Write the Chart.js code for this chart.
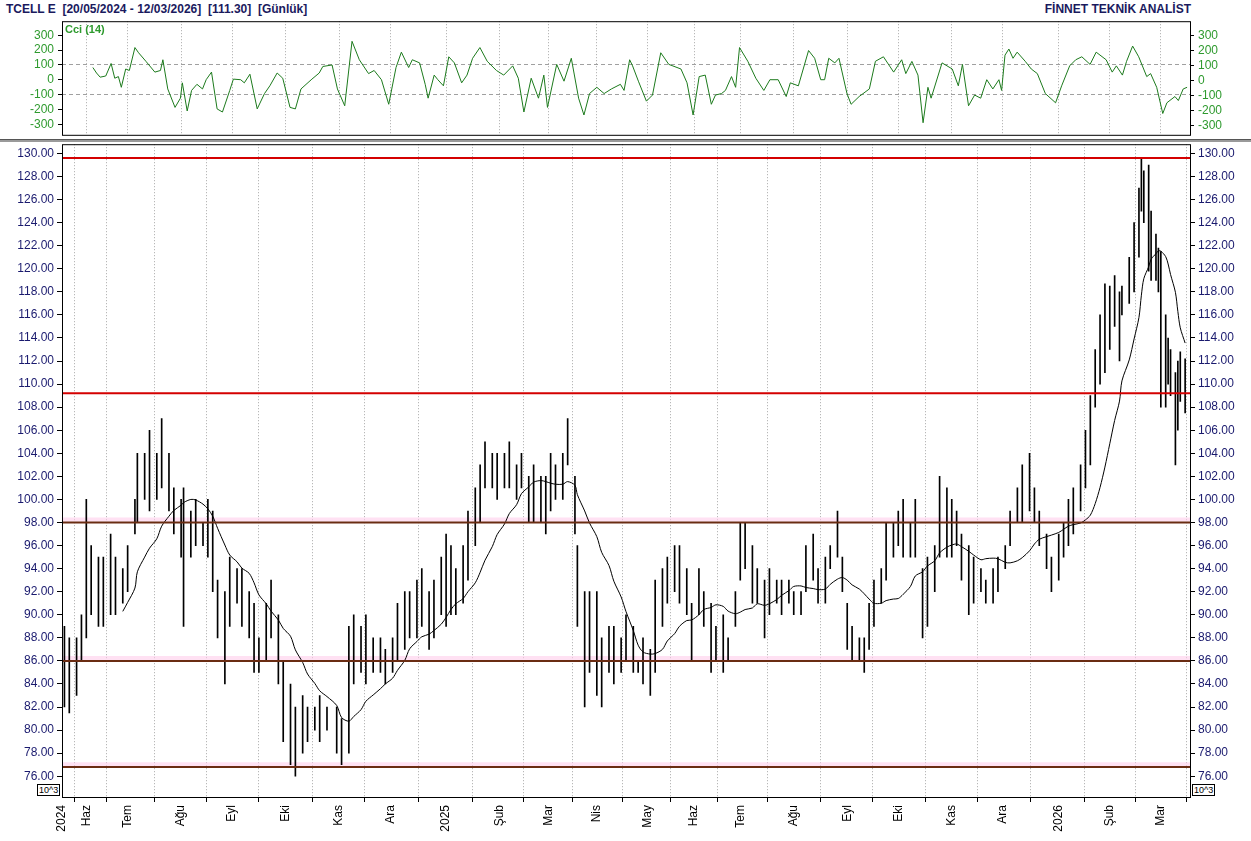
<!DOCTYPE html>
<html>
<head>
<meta charset="utf-8">
<script src="https://cdn.jsdelivr.net/npm/chart.js@4"></script>
<style>
  body { margin: 0; background: #fff; font-family: "Liberation Sans", Arial, sans-serif; }
  #wrap { position: relative; width: 1251px; height: 841px; overflow: hidden; }
  .title { position: absolute; top: 2px; font-size: 12px; font-weight: bold; color: #1a1a5e; }
  canvas { position: absolute; left: 0; }
  .sep { position: absolute; left: 0; width: 1251px; height: 2px; background: #9a9a9a; border-top: 1px solid #555; }
  .exp { position: absolute; top: 784px; font-size: 9px; border: 1px solid #000; padding: 0 1px; background: #fff; }
</style>
</head>
<body>
<div id="wrap">
  <div class="title" style="left:6px">TCELL E&nbsp; [20/05/2024 - 12/03/2026]&nbsp; [111.30]&nbsp; [Günlük]</div>
  <div class="title" style="right:60px">FİNNET TEKNİK ANALİST</div>
  <canvas id="cci" width="1251" height="136" style="top:10px"></canvas>
  <div class="sep" style="top:139px"></div>
  <canvas id="price" width="1251" height="707" style="top:134px"></canvas>
  <div class="exp" style="left:37px">10^3</div>
  <div class="exp" style="left:1192px">10^3</div>
</div>
<script>
// month ticks, in trading sessions from 20/05/2024
const monthPos = [0, 10, 27, 49, 70, 92, 114, 135, 158, 180, 200, 220, 241, 260, 279, 301, 323, 344, 366, 387, 410, 431, 452];
const monthLabels = ['2024', 'Haz', 'Tem', 'Ağu', 'Eyl', 'Eki', 'Kas', 'Ara', '2025', 'Şub', 'Mar', 'Nis', 'May', 'Haz', 'Tem', 'Ağu', 'Eyl', 'Eki', 'Kas', 'Ara', '2026', 'Şub', 'Mar'];

// price bars: session, high, low
const barDay = [1,3,6,8,10,12,15,17,20,22,25,27,30,31,34,36,39,41,44,46,49,50,53,55,58,60,62,64,67,69,72,74,77,79,81,84,86,89,91,94,96,99,101,104,106,109,113,115,118,120,123,125,128,131,133,136,138,141,143,146,148,151,153,156,158,160,162,165,167,170,172,174,177,179,182,184,187,189,192,194,197,199,201,203,206,208,211,212,215,217,220,222,225,227,230,232,235,237,239,242,244,247,249,252,254,257,259,262,264,267,269,272,274,277,279,281,284,286,289,291,294,296,299,301,304,306,309,311,314,316,319,321,323,325,328,330,332,334,337,339,342,344,346,349,351,354,356,359,361,364,366,368,370,373,375,378,380,383,385,388,390,393,395,398,400,402,405,407,410,412,414,416,419,421,423,425,427,429,431,433,435,436,439,441,443,444,445,447,448,450,451,452,454,455,456,458,459,460,462];
const barHigh = [89,88,88,90,100,96,95,95,97,95,94,96,100,104,104,106,104,107,104,101,100,101,99,100,98,100,99,93,92,95,94,94,92,91,88,91,93,90,86,84,82,83,82,82,83,82,82,81,89,90,89,90,88,88,87,88,91,92,92,93,94,92,93,95,97,96,94,96,99,101,103,105,104,104,104,105,103,104,102,103,102,102,104,103,104,107,102,96,92,92,92,88,89,89,88,90,89,86,88,87,93,94,95,96,96,94,91,94,92,91,89,90,88,92,98,98,96,94,93,94,93,93,93,92,92,96,97,94,95,96,99,95,91,89,88,88,91,93,94,98,98,99,100,98,100,94,95,96,102,101,100,99,97,96,95,94,93,94,95,96,99,101,103,104,101,99,97,95,97,98,100,101,103,106,109,113,116,118.7,118.5,119.4,118,118.5,121,124,127,129.5,128.5,129,125,123,121.8,121.5,116,114,113,111,112,112.8,112.2];
const barLow = [82,81.5,83,86,88,90,89,89,90,90,91,92,97,98,100,99,100,101,99,97,95,89,95,96,96,95,92,88,84,89,91,89,88,85,85,86,88,84,79,77,76,78,79,80,79,80,78,77,78,84,85,84,85,85,84,85,86,87,88,88,89,87,88,90,89,90,90,91,93,96,98,101,101,100,101,101,100,101,98,98,98,97,99,100,100,103,97,89,82,85,83,82,85,84,85,86,85,85,84,83,85,89,91,92,91,90,86,90,89,85,86,85,86,89,93,94,91,91,88,90,91,90,91,90,90,92,93,91,91,94,95,92,87,86,86,85,87,89,91,93,95,96,95,95,95,88,89,92,95,95,95,96,93,90,91,92,91,91,92,94,96,98,98,99,98,96,94,92,93,95,96,97,99,101,103,108,110,111,113,115,112,116,117,118,121,125,124,119.8,119,119,118,108,108,110,109,103,106,108.5,107.5];

// support / resistance levels
const redLevels = [129.6, 109.2];
const brownLevels = [98, 86, 76.8];
const priceTicks = [76,78,80,82,84,86,88,90,92,94,96,98,100,102,104,106,108,110,112,114,116,118,120,122,124,126,128,130];

// CCI(14) readings: session, value
const cciDay = [12.7,14.2,15.7,18,20.2,21.7,23.2,24.4,26.2,27.7,30,31.5,34.5,38.2,40.5,41.5,43.5,46.5,48.7,49.5,51.5,53.3,55.5,57.8,59.3,61.5,63.8,66,69,70.5,73.5,75,77.3,80.3,83.3,85.5,88.5,90.8,93.8,96,98.3,102.8,105.8,107.3,111.1,113.3,116.3,119.3,122.3,126.1,128.4,131.4,134.4,137.4,139.6,142.6,144.1,147.1,149.4,150.6,153.1,154.6,156.9,159.1,161.4,164.4,166.6,168.9,171.9,174.9,178.7,181.7,185.4,187.7,190,193,196,198.2,199.7,203.5,206.5,209.5,212.5,214.7,217,220,223,226,229.7,231.2,233.5,234.7,237.1,240.4,242.9,246.3,249.6,254.6,257.1,259.6,262.1,264.6,267.1,268.8,271.3,272.9,275.4,277.1,278.7,282.1,285.4,288.7,291.2,294.6,297.9,299.6,302.9,307.1,309.6,312.1,313.7,315.4,317.9,319.6,322.9,324.6,327.9,332.1,334.6,337.9,342.1,345.4,347.1,349.6,352.1,354.2,356.2,357.5,362,366.2,368.7,370.4,372.9,375.4,377.9,380.4,382.9,385.4,386.5,387.9,389.5,391.2,392.9,396.2,398.7,401.2,404.5,408.7,411.2,414.5,417,419.5,422.9,425.4,429.5,432,433.7,436.2,437.9,440.4,442.9,446.2,447.8,450.3,452.8,454.5,457.8,459.2,461.2,462.8];
const cciVal = [83,46,18,26,110,11,22,-50,73,63,217,182,125,52,63,135,-61,-185,-123,-20,-209,-71,-30,-61,1,52,-195,-216,-71,5,1,-20,38,-195,-92,-40,46,11,-185,-195,-61,5,46,90,100,-61,-174,259,135,42,63,1,-164,83,186,83,135,114,-30,-123,32,1,-40,155,114,-20,32,145,217,125,63,32,94,11,-216,11,-123,32,-185,104,-9,145,-123,-236,-92,-50,-92,-61,-30,-71,135,94,-9,-143,-102,182,104,73,-20,-236,22,32,-164,-102,-92,-71,22,-50,217,125,11,-71,1,1,-112,-20,-40,197,145,1,1,145,114,145,-92,-164,-112,-61,125,155,52,135,42,124,32,-288,-50,-123,114,73,-40,104,-174,-102,-123,1,-61,1,-71,166,207,145,186,125,73,42,-92,-154,-40,94,135,155,104,186,135,52,94,32,124,227,155,22,42,-50,-226,-154,-112,-139,-61,-50];
const cciTicks = [-300,-200,-100,0,100,200,300];

const X_MIN = 0, X_MAX = 464;
const navy = '#1a1a6e', green = '#2e9a2e';
const font = { family: '"Liberation Sans", Arial, sans-serif', size: 12 };

// moving average of bar midpoints
const MA_N = 11;
const mid = barHigh.map((h, i) => (h + barLow[i]) / 2);
const maData = [];
for (let i = MA_N - 1; i < mid.length; i++) {
  let s = 0;
  for (let j = i - MA_N + 1; j <= i; j++) s += mid[j];
  maData.push({ x: barDay[i], y: s / MA_N });
}

function fixWidth(w) { return s => { s.width = w; }; }
function setTicks(vals) { return s => { s.ticks = vals.map(v => ({ value: v })); }; }

const frame = {
  id: 'frame',
  afterDraw(c) {
    const a = c.chartArea, g = c.ctx;
    g.save();
    g.strokeStyle = '#000';
    g.lineWidth = 1;
    g.strokeRect(a.left + 0.5, a.top + 0.5, a.right - a.left, a.bottom - a.top);
    g.restore();
  }
};

// cci panel
new Chart(document.getElementById('cci'), {
  type: 'line',
  data: {
    datasets: [{
      data: cciDay.map((d, i) => ({ x: d, y: cciVal[i] })),
      borderColor: '#1c7a1c', borderWidth: 1, pointRadius: 0, tension: 0
    }]
  },
  options: {
    responsive: false, animation: false,
    layout: { padding: 0 },
    plugins: { legend: { display: false }, tooltip: { enabled: false } },
    scales: {
      x: {
        type: 'linear', min: X_MIN, max: X_MAX,
        afterBuildTicks: setTicks(monthPos),
        ticks: { display: false },
        grid: { color: '#a8a8a8', lineWidth: 1, drawTicks: false },
        border: { display: false, dash: [1, 2] },
        afterFit: s => { s.height = 0; }
      },
      y: {
        position: 'left', min: -369, max: 394,
        afterBuildTicks: setTicks(cciTicks),
        afterFit: fixWidth(62),
        ticks: { color: green, font, padding: 4, autoSkip: false },
        grid: {
          color: c => (c.tick.value === 100 || c.tick.value === -100) ? '#a0a0a0' : 'transparent',
          tickLength: 4, tickColor: '#000'
        },
        border: { display: false, dash: [4, 3] }
      },
      y2: {
        position: 'right', min: -369, max: 394,
        afterBuildTicks: setTicks(cciTicks),
        afterFit: fixWidth(61),
        ticks: { display: false },
        grid: { drawOnChartArea: false, drawTicks: false },
        border: { display: false }
      }
    }
  },
  plugins: [frame, {
    id: 'lbl',
    afterDraw(c) {
      const g = c.ctx, a = c.chartArea, ys = c.scales.y;
      g.save();
      g.fillStyle = green;
      g.font = 'bold 11px "Liberation Sans", Arial, sans-serif';
      g.textBaseline = 'top';
      g.fillText('Cci (14)', a.left + 3, a.top + 3);
      // right side labels and tick marks
      g.font = '12px "Liberation Sans", Arial, sans-serif';
      g.textBaseline = 'middle';
      g.strokeStyle = '#000';
      cciTicks.forEach(v => {
        const y = Math.round(ys.getPixelForValue(v)) + 0.5;
        g.beginPath(); g.moveTo(a.right, y); g.lineTo(a.right + 4, y); g.stroke();
        g.fillText(String(v), a.right + 8, y);
      });
      g.restore();
    }
  }]
});

// price panel
const levelSets = [];
redLevels.forEach(v => levelSets.push({
  type: 'line', data: [{ x: X_MIN, y: v }, { x: X_MAX, y: v }],
  borderColor: '#d40000', borderWidth: 2, pointRadius: 0, order: 0
}));
brownLevels.forEach(v => {
  levelSets.push({
    type: 'line', data: [{ x: X_MIN, y: v + 0.25 }, { x: X_MAX, y: v + 0.25 }],
    borderColor: 'rgba(255,205,235,0.6)', borderWidth: 4, pointRadius: 0, order: 2
  });
  levelSets.push({
    type: 'line', data: [{ x: X_MIN, y: v }, { x: X_MAX, y: v }],
    borderColor: '#6a2c12', borderWidth: 2, pointRadius: 0, order: 0
  });
});

new Chart(document.getElementById('price'), {
  type: 'bar',
  data: {
    datasets: [
      {
        type: 'bar',
        data: barDay.map((d, i) => ({ x: d, y: [barLow[i], barHigh[i]] })),
        backgroundColor: '#000', borderWidth: 0, barThickness: 1, order: 1,
        grouped: false
      },
      {
        type: 'line', data: maData,
        borderColor: '#000', borderWidth: 1, pointRadius: 0, tension: 0.3, order: 1
      },
      ...levelSets
    ]
  },
  options: {
    responsive: false, animation: false,
    layout: { padding: 0 },
    plugins: { legend: { display: false }, tooltip: { enabled: false } },
    scales: {
      x: {
        type: 'linear', min: X_MIN, max: X_MAX, offset: false,
        afterBuildTicks: setTicks(monthPos),
        afterFit: s => { s.height = 44; },
        ticks: {
          color: '#000', font, minRotation: 90, maxRotation: 90, padding: 3, autoSkip: false,
          callback: v => monthLabels[monthPos.indexOf(v)]
        },
        grid: { color: '#a8a8a8', tickLength: 5, tickColor: '#000' },
        border: { display: false, dash: [1, 2] }
      },
      y: {
        position: 'left', min: 74.2, max: 130.8,
        afterBuildTicks: setTicks(priceTicks),
        afterFit: fixWidth(62),
        ticks: { color: navy, font, padding: 3, autoSkip: false, callback: v => v.toFixed(2) },
        grid: { drawOnChartArea: false, tickLength: 5, tickColor: '#000' },
        border: { display: false }
      },
      y2: {
        position: 'right', min: 74.2, max: 130.8,
        afterBuildTicks: setTicks(priceTicks),
        afterFit: fixWidth(61),
        ticks: { color: navy, font, padding: 3, autoSkip: false, callback: v => v.toFixed(2) },
        grid: { drawOnChartArea: false, tickLength: 5, tickColor: '#000' },
        border: { display: false }
      }
    }
  },
  plugins: [frame]
});
</script>
</body>
</html>
